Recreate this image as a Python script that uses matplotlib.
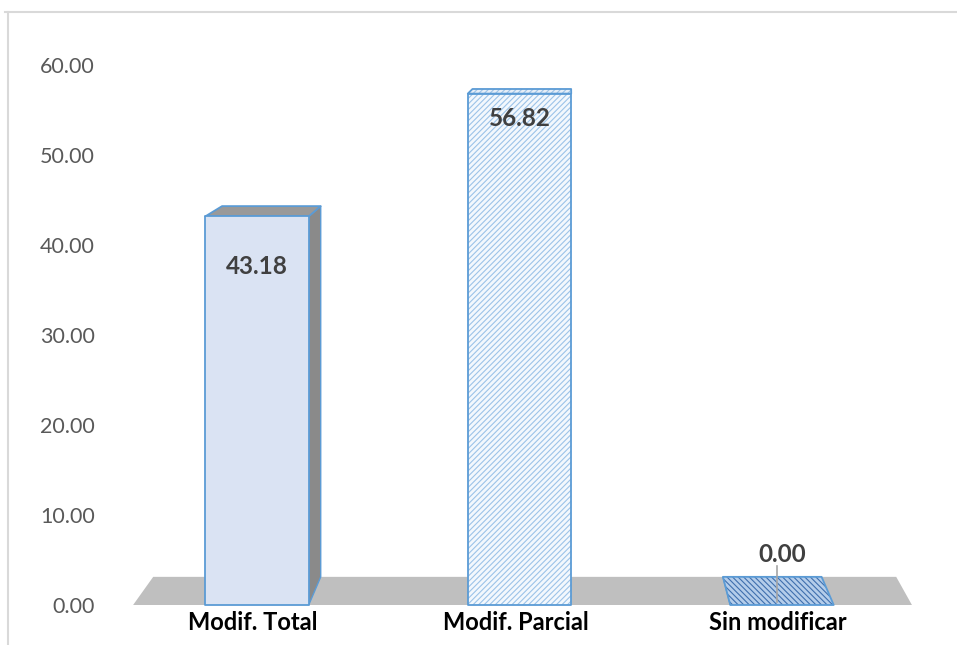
import matplotlib
matplotlib.use("Agg")
import matplotlib.pyplot as plt
from matplotlib.patches import Polygon
from matplotlib.lines import Line2D
import numpy as np

# ---- data ----
categories = ["Modif. Total", "Modif. Parcial", "Sin modificar"]
values = [43.18, 56.82, 0.00]
y_ticks = [0, 10, 20, 30, 40, 50, 60]

# ---- styles ----
FONT = "Lato"
W, H = 957, 645
fig = plt.figure(figsize=(W / 100, H / 100), dpi=100)
fig.patch.set_facecolor("white")

# axes placement (pixel geometry of reference)
ax_left_px = 110
ax = fig.add_axes([ax_left_px / W, 0, 1 - ax_left_px / W, 1])
x0_px, unit_x = 257.0, 262.5   # pixel of category 0 and px per category
y0_px, unit_y = 605.0, 9.0     # pixel row of value 0 and px per unit
ax.set_xlim((ax_left_px - x0_px) / unit_x, (W - x0_px) / unit_x)
ax.set_ylim((y0_px - H) / unit_y, y0_px / unit_y)
for s in ax.spines.values():
    s.set_visible(False)
ax.set_yticks(y_ticks)
ax.set_yticklabels([f"{v:.2f}" for v in y_ticks], fontsize=15.5, color="#595959",
                   family=FONT)
ax.tick_params(axis="y", length=0, pad=11)
ax.set_xticks([])
ax.patch.set_alpha(0)

# perspective: back point = front + (vp - front) * t
vp = np.array([1.192, 68.0])
t = 0.046

def back(p):
    p = np.asarray(p, float)
    return p + (vp - p) * t

# floor
floor_l, floor_r = -0.472, 2.495
fl = [(floor_l, 0), (floor_r, 0), tuple(back((floor_r, 0))), tuple(back((floor_l, 0)))]
ax.add_patch(Polygon(fl, closed=True, facecolor="#bfbfbf", edgecolor="none", zorder=1))

half = 0.197
edge_blue = "#5b9bd5"
styles = [
    dict(face="#dae3f3", hatch=None, hcolor=None, top="#999999", side="#8a8a8a"),
    dict(face="#f3f8fd", hatch="//////", hcolor="#9cc3e8", top="#e6eef7", side="#9a9a9a"),
    dict(face="#b4cdea", hatch="\\\\\\\\\\\\", hcolor="#3f6fae", top="#b4cdea", side="#9a9a9a"),
]

def face(poly, st, fc, z, hatched):
    if hatched and st["hatch"]:
        ax.add_patch(Polygon(poly, closed=True, facecolor=fc, edgecolor=st["hcolor"],
                             hatch=st["hatch"], lw=0, zorder=z))
    else:
        ax.add_patch(Polygon(poly, closed=True, facecolor=fc, edgecolor="none", zorder=z))
    ax.add_patch(Polygon(poly, closed=True, facecolor="none", edgecolor=edge_blue,
                         lw=1.3, zorder=z + 0.1, joinstyle="round"))

plt.rcParams["hatch.linewidth"] = 0.8
for i, (cat, v) in enumerate(zip(categories, values)):
    st = styles[i]
    L, R = i - half, i + half
    fbl, fbr, ftr, ftl = (L, 0), (R, 0), (R, v), (L, v)
    z = 3 + i
    # side faces
    if R < vp[0] - 0.01:
        side = [fbr, ftr, tuple(back(ftr)), tuple(back(fbr))]
        ax.add_patch(Polygon(side, closed=True, facecolor=st["side"], edgecolor=edge_blue,
                             lw=1.0, zorder=z))
    if L > vp[0] + 0.01:
        side = [fbl, ftl, tuple(back(ftl)), tuple(back(fbl))]
        ax.add_patch(Polygon(side, closed=True, facecolor=st["side"], edgecolor=edge_blue,
                             lw=1.0, zorder=z))
    # top face
    top = [ftl, ftr, tuple(back(ftr)), tuple(back(ftl))]
    face(top, st, st["top"], z + 0.2, hatched=(i != 0))
    # front face
    if v > 0:
        front = [fbl, fbr, ftr, ftl]
        face(front, st, st["face"], z + 0.4, hatched=True)
    else:
        # small leader line for the zero bar
        ax.add_line(Line2D([i - 0.02, i - 0.02], [back((i, 0))[1] + 1.2, 0.3],
                           color="#a6a6a6", lw=1.2, zorder=z + 1))

# data labels
label_offsets_px = [-50, -25, 50]
for i, v in enumerate(values):
    ax.text(i, v + label_offsets_px[i] / unit_y, f"{v:.2f}", ha="center", va="center",
            fontsize=17.5, fontweight="bold", color="#404040", family=FONT, zorder=10)

# category labels
for i, cat in enumerate(categories):
    ax.text(i - 0.015, (y0_px - 623) / unit_y, cat, ha="center", va="center", fontsize=17,
            fontweight="bold", color="black", family=FONT, zorder=10)

# chart border (top and left visible)
bc = "#d9d9d9"
fig.add_artist(Line2D([5 / W, 1], [1 - 11.5 / H, 1 - 11.5 / H], transform=fig.transFigure,
                      color=bc, lw=1.5))
fig.add_artist(Line2D([8 / W, 8 / W], [1 - 11.5 / H, 0], transform=fig.transFigure,
                      color=bc, lw=1.5))

fig.savefig("out.png", dpi=100, facecolor="white")
